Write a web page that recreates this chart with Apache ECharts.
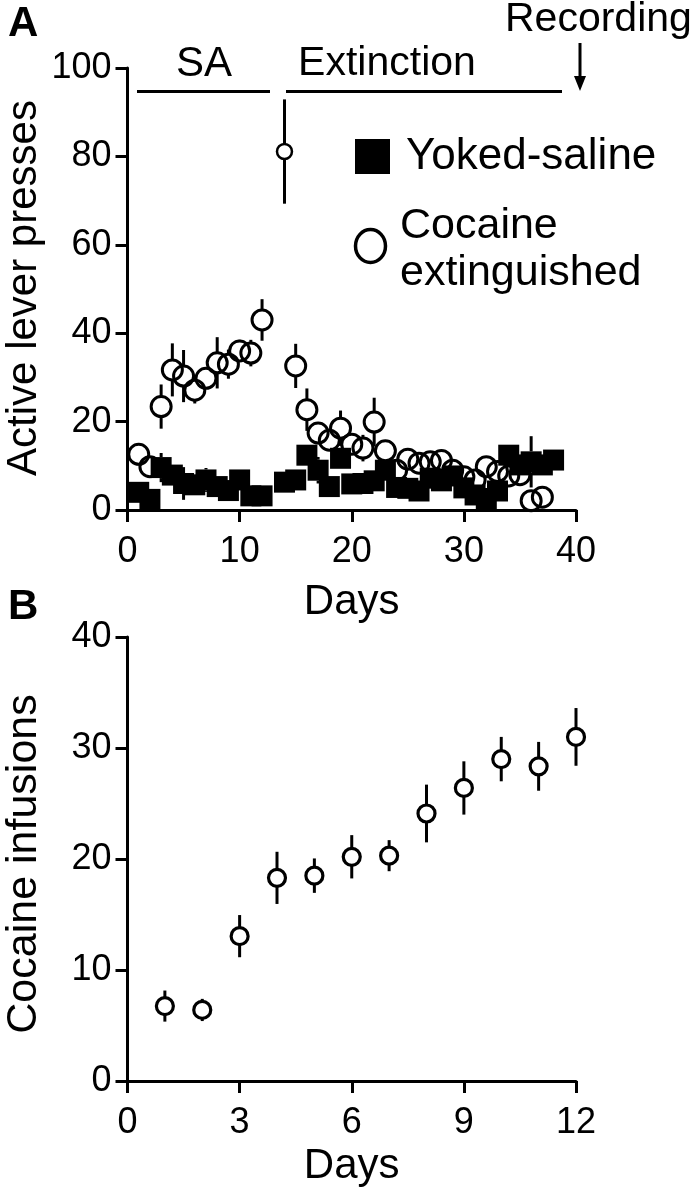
<!DOCTYPE html>
<html>
<head>
<meta charset="utf-8">
<script src="https://cdn.jsdelivr.net/npm/echarts@6/dist/echarts.min.js"></script>
<style>
html,body{margin:0;padding:0;background:#fff;}
#chart{width:697px;height:1199px;}
</style>
</head>
<body>
<div id="chart"></div>
<script>
// ---------- Panel A data ----------
const cocDays = [1,2,3,4,5,6,7,8,9,10,11,12,14,15,16,17,18,19,20,21,22,23,24,25,26,27,28,29,30,31,32,33,34,35,36,37];
const cocVals = [12.6,9.8,23.4,31.7,30.3,27.1,29.8,33.3,33.0,36.0,35.5,43.0,81.1,32.6,22.7,17.4,15.8,18.5,14.9,14.0,19.9,13.4,9.0,11.5,10.6,10.9,11.2,9.0,7.5,6.8,9.8,8.7,7.7,8.0,2.1,2.9];
const cocErr  = [2.5,1.0,5.0,6.0,5.9,3.0,2.0,5.8,3.3,2.5,3.0,4.7,11.8,5.0,4.8,2.5,2.0,4.0,2.0,3.0,5.5,2.0,1.5,2.0,1.5,2.0,1.5,1.5,1.5,1.5,1.5,1.5,1.5,1.5,1.0,1.0];
const salDays = [1,2,3,4,5,6,7,8,9,10,11,12,14,15,16,17,18,19,20,21,22,23,24,25,26,27,28,29,30,31,32,33,34,35,36,37,38];
const salVals = [4.0,2.4,9.6,7.9,6.0,5.7,6.8,5.3,4.4,6.8,3.2,3.2,6.3,6.8,12.4,9.0,5.3,11.7,5.9,6.0,6.6,9.0,5.1,4.9,4.3,7.2,6.6,7.7,5.0,3.4,2.6,4.3,12.4,10.2,10.9,10.2,11.3];
const salErr  = [1.5,1.5,3.3,2.0,3.7,2.0,2.7,2.0,1.5,2.0,1.5,1.5,1.5,1.5,2.0,3.0,1.5,2.0,1.5,1.5,2.0,2.0,1.5,1.5,1.5,2.0,1.5,2.0,1.5,1.5,1.5,1.5,2.0,2.0,5.8,2.0,1.5];
const aXTicks = [0,10,20,30,40];
const aYTicks = [0,20,40,60,80,100];
// ---------- Panel B data ----------
const infDays = [1,2,3,4,5,6,7,8,9,10,11,12];
const infVals = [6.75,6.4,13.05,18.3,18.5,20.2,20.3,24.1,26.4,29.0,28.35,31.0];
const infErr  = [1.4,1.0,1.9,2.35,1.55,1.95,1.4,2.6,2.4,2.0,2.2,2.6];
const bXTicks = [0,3,6,9,12];
const bYTicks = [0,10,20,30,40];

const FONT = '"Liberation Sans", Arial, Helvetica, sans-serif';
const chart = echarts.init(document.getElementById('chart'), null, {renderer:'canvas'});

function axisCommon(ticks, margin){
  return {
    min: ticks[0], max: ticks[ticks.length-1], interval: ticks[1]-ticks[0],
    axisLine:{show:true, onZero:false, lineStyle:{color:'#000', width:3}},
    axisTick:{show:true, length:12, lineStyle:{color:'#000', width:3}},
    splitLine:{show:false},
    axisLabel:{color:'#000', fontFamily:FONT, fontSize:36, margin:margin},
  };
}
function errSeries(xi, yi, xs, ys, es, rs, z){
  return {
    type:'custom', xAxisIndex:xi, yAxisIndex:yi, z:z, silent:true,
    data: xs.map((x,i)=>[x, ys[i], es[i], rs[i]]),
    renderItem:function(params, api){
      const x=api.value(0), y=api.value(1), e=api.value(2), r=api.value(3);
      const c=api.coord([x,y]), t=api.coord([x,y+e]), b=api.coord([x,y-e]);
      const kids=[];
      const st={stroke:'#000', lineWidth:3};
      if (t[1] < c[1]-r) kids.push({type:'line', shape:{x1:c[0],y1:t[1],x2:c[0],y2:c[1]-r}, style:st});
      if (b[1] > c[1]+r) kids.push({type:'line', shape:{x1:c[0],y1:c[1]+r,x2:c[0],y2:b[1]}, style:st});
      return {type:'group', children:kids};
    }
  };
}
function txt(t, x, y, size, opts){
  opts = opts || {};
  return {
    type:'text', x:x, y:y, rotation: opts.rot||0, silent:true,
    style:{text:t, fill:'#000', font:(opts.bold?'bold ':'')+size+'px '+FONT,
      align: opts.align||'center', verticalAlign:'middle'}
  };
}

const cocSize = cocDays.map(d => d===14 ? 15 : 20);
const cocR = cocDays.map(d => d===14 ? 7.5 : 10);

const option = {
  backgroundColor:'#fff',
  animation:false,
  grid:[
    {left:127.5, top:68, width:448.5, height:442},
    {left:127.5, top:637, width:448.5, height:444}
  ],
  xAxis:[
    Object.assign({type:'value', gridIndex:0}, axisCommon(aXTicks, 24)),
    Object.assign({type:'value', gridIndex:1}, axisCommon(bXTicks, 24))
  ],
  yAxis:[
    Object.assign({type:'value', gridIndex:0}, axisCommon(aYTicks, 16)),
    Object.assign({type:'value', gridIndex:1}, axisCommon(bYTicks, 16))
  ],
  series:[
    errSeries(0,0,salDays,salVals,salErr,salDays.map(()=>10.5),2),
    {type:'scatter', name:'Yoked-saline', xAxisIndex:0, yAxisIndex:0, z:3, silent:true,
     symbol:'rect', symbolSize:21, itemStyle:{color:'#000', opacity:1},
     data: salDays.map((d,i)=>[d, salVals[i]])},
    errSeries(0,0,cocDays,cocVals,cocErr,cocR,4),
    {type:'scatter', name:'Cocaine extinguished', xAxisIndex:0, yAxisIndex:0, z:5, silent:true,
     symbol:'circle', itemStyle:{color:'rgba(0,0,0,0)', borderColor:'#000', borderWidth:3, opacity:1},
     data: cocDays.map((d,i)=>({value:[d, cocVals[i]], symbolSize:cocSize[i], itemStyle:{borderWidth: d===14?2.5:3}}))},
    errSeries(1,1,infDays,infVals,infErr,infDays.map(()=>8.5),4),
    {type:'scatter', name:'Cocaine infusions', xAxisIndex:1, yAxisIndex:1, z:5, silent:true,
     symbol:'circle', symbolSize:17, itemStyle:{color:'#fff', borderColor:'#000', borderWidth:3.2, opacity:1},
     data: infDays.map((d,i)=>[d, infVals[i]])}
  ],
  graphic:[
    txt('A', 8, 24, 42, {bold:true, align:'left'}),
    txt('B', 8, 607, 42, {bold:true, align:'left'}),
    txt('SA', 204, 64, 42),
    txt('Extinction', 387, 64, 41),
    txt('Recording', 505, 20, 41, {align:'left'}),
    {type:'line', silent:true, shape:{x1:137, y1:91.5, x2:270, y2:91.5}, style:{stroke:'#000', lineWidth:3}},
    {type:'line', silent:true, shape:{x1:286, y1:91.5, x2:562, y2:91.5}, style:{stroke:'#000', lineWidth:3}},
    {type:'line', silent:true, shape:{x1:580, y1:43, x2:580, y2:80}, style:{stroke:'#000', lineWidth:3}},
    {type:'polygon', silent:true, shape:{points:[[574,76],[586,76],[580,91]]}, style:{fill:'#000'}},
    {type:'rect', silent:true, shape:{x:355, y:139, width:35, height:35}, style:{fill:'#000'}},
    txt('Yoked-saline', 406, 157, 44, {align:'left'}),
    {type:'ellipse', silent:true, shape:{cx:370.5, cy:246, rx:15, ry:16.5}, style:{fill:'none', stroke:'#000', lineWidth:3.5}},
    txt('Cocaine', 400, 226, 43, {align:'left'}),
    txt('extinguished', 400, 273, 43, {align:'left'}),
    txt('Days', 351.7, 602, 42),
    txt('Days', 351.7, 1166, 42),
    txt('Active lever presses', 24, 288, 42, {rot:Math.PI/2}),
    txt('Cocaine infusions', 24, 864, 43, {rot:Math.PI/2})
  ]
};
chart.setOption(option);
</script>
</body>
</html>
